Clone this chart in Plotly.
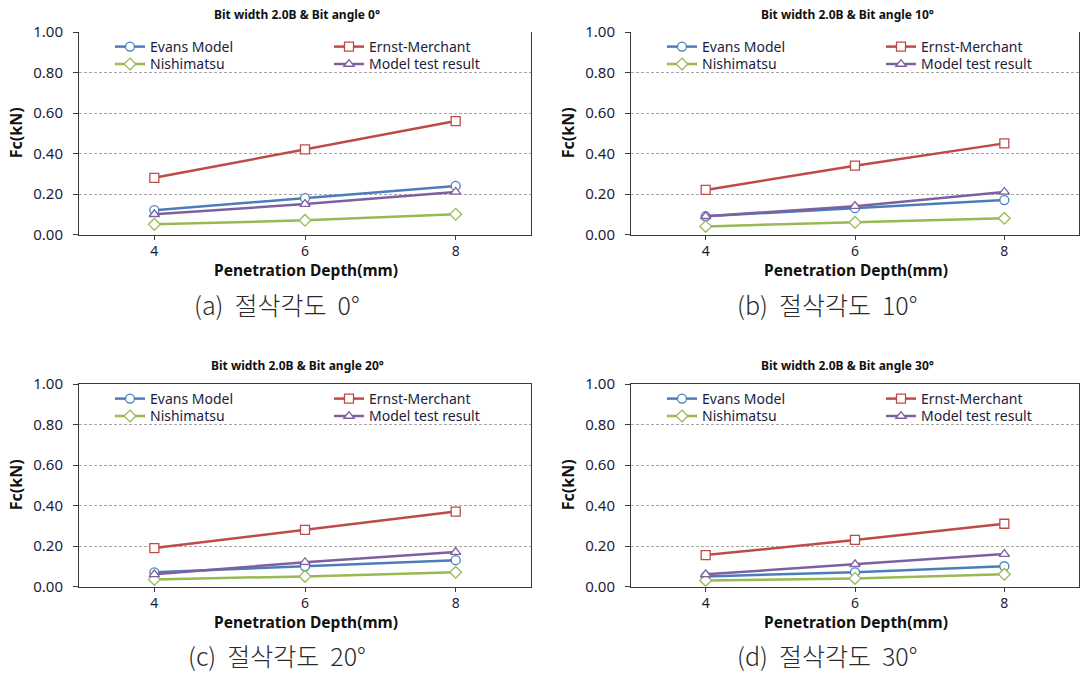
import plotly.graph_objects as go

# Penetration depth categories (mm)
depths = ["4", "6", "8"]

# Cutting force Fc (kN) for each bit angle
evans_0 = [0.12, 0.18, 0.24]
ernst_0 = [0.28, 0.42, 0.56]
nishi_0 = [0.05, 0.07, 0.10]
model_0 = [0.10, 0.15, 0.21]

evans_10 = [0.09, 0.13, 0.17]
ernst_10 = [0.22, 0.34, 0.45]
nishi_10 = [0.04, 0.06, 0.08]
model_10 = [0.09, 0.14, 0.21]

evans_20 = [0.07, 0.10, 0.13]
ernst_20 = [0.19, 0.28, 0.37]
nishi_20 = [0.035, 0.05, 0.07]
model_20 = [0.06, 0.12, 0.17]

evans_30 = [0.05, 0.07, 0.10]
ernst_30 = [0.155, 0.23, 0.31]
nishi_30 = [0.03, 0.04, 0.06]
model_30 = [0.06, 0.11, 0.16]

angles = [0, 10, 20, 30]
panel_tags = ["(a)", "(b)", "(c)", "(d)"]
series_names = ["Evans Model", "Ernst-Merchant", "Nishimatsu", "Model test result"]
panels = [
    [evans_0, ernst_0, nishi_0, model_0],
    [evans_10, ernst_10, nishi_10, model_10],
    [evans_20, ernst_20, nishi_20, model_20],
    [evans_30, ernst_30, nishi_30, model_30],
]

colors = ["#4a7ebb", "#be4b48", "#98b954", "#7d60a0"]
symbols = ["circle", "square", "diamond", "triangle-up"]
# legend grid slot of each series: (column, row)
legend_slot = [(0, 0), (1, 0), (0, 1), (1, 1)]
y_ticks = [0.0, 0.2, 0.4, 0.6, 0.8, 1.0]

W, H = 1084, 673
# plot-area boxes in pixels: (left, right, top, bottom)
boxes = [
    (79, 531, 32, 234.5),
    (631, 1079, 32, 234.5),
    (79, 531, 384, 586.5),
    (631, 1079, 384, 586.5),
]
# vertical offset of the panel caption below each plot area
caption_gap = [70, 70, 68, 68]

TEXT = "#1c1c3c"
FONT = "Noto Sans"


def legend_id(n):
    return "legend" if n == 1 else "legend%d" % n


def px_x(v):
    return v / W


def px_y(v):
    return 1 - v / H


fig = go.Figure()
annotations = []
layout = {}

for i, (vals, box) in enumerate(zip(panels, boxes)):
    left, right, top, bottom = box
    sfx = "" if i == 0 else str(i + 1)
    xa, ya = "x" + sfx, "y" + sfx
    ya_lab = "y%d" % (i + 5)
    for k, (name, v, c, s, slot) in enumerate(
            zip(series_names, vals, colors, symbols, legend_slot)):
        leg = legend_id(4 * i + k + 1)
        fig.add_trace(go.Scatter(
            x=depths, y=v, name=name, mode="lines+markers",
            xaxis=xa, yaxis=ya, legend=leg, showlegend=True,
            line=dict(color=c, width=2.5),
            marker=dict(symbol=s, size=9, color="white",
                        line=dict(color=c, width=1.3)),
        ))
        col, row = slot
        layout[leg] = dict(
            x=px_x(left + (31, 250)[col]), y=px_y(top - 1 + 17.4 * row),
            xanchor="left", yanchor="top", orientation="v",
            font=dict(family=FONT, size=14, color=TEXT),
            bgcolor="rgba(0,0,0,0)", borderwidth=0,
        )
    # empty trace that registers the tick-label axis on this subplot
    fig.add_trace(go.Scatter(x=[], y=[], xaxis=xa, yaxis=ya_lab,
                             showlegend=False, hoverinfo="skip"))
    top_solid = i >= 2
    layout["xaxis" + sfx] = dict(
        domain=[px_x(left), px_x(right)], anchor=ya, type="category",
        range=[-0.5, 2.5], showline=True, linecolor="#3a3a3a", linewidth=1.3,
        mirror=top_solid, ticks="outside", ticklen=4, tickcolor="#3a3a3a",
        showgrid=False, tickfont=dict(family=FONT, size=14, color=TEXT),
    )
    # value axis: frame line, ticks and dashed grid
    layout["yaxis" + sfx] = dict(
        domain=[px_y(bottom), px_y(top)], anchor=xa, range=[0, 1.0],
        tickvals=y_ticks, showticklabels=False,
        showline=True, linecolor="#3a3a3a", linewidth=1.3,
        mirror=True, ticks="outside", ticklen=5, tickcolor="#3a3a3a",
        showgrid=True, gridcolor="#a6a6a6", griddash="3px,2px", gridwidth=1,
        zeroline=False,
    )
    # companion axis carrying the tick labels a little further out
    layout["yaxis%d" % (i + 5)] = dict(
        overlaying=ya, anchor="free", position=px_x(left - 16), side="left",
        range=[0, 1.0], tickvals=y_ticks, tickformat=".2f",
        showline=False, showgrid=False, zeroline=False, ticks="",
        tickfont=dict(family=FONT, size=15, color=TEXT),
    )
    cx = (left + right) / 2
    cy = (top + bottom) / 2
    annotations += [
        dict(text="<b>Bit width 2.0B & Bit angle %d°</b>" % angles[i],
             x=px_x(cx - 8), y=px_y(top - 18),
             font=dict(family=FONT, size=12, color="#111111")),
        dict(text="<b>Penetration Depth(mm)</b>",
             x=px_x(cx + 1), y=px_y(bottom + 35),
             font=dict(family=FONT, size=15.5, color="#111111")),
        dict(text="<b>Fc(kN)</b>", textangle=-90,
             x=px_x(left - 63), y=px_y(cy),
             font=dict(family=FONT, size=16, color="#111111")),
        dict(text="%s  절삭각도  %d°" % (panel_tags[i], angles[i]),
             x=px_x(cx - 28), y=px_y(bottom + caption_gap[i]),
             font=dict(family="Noto Sans CJK KR", size=25, weight=300,
                       color="#2a2a2a")),
    ]

for a in annotations:
    a.update(xref="paper", yref="paper", xanchor="center",
             yanchor="middle", showarrow=False, borderpad=0)

fig.update_layout(
    width=W, height=H, showlegend=True,
    margin=dict(l=0, r=0, t=0, b=0, autoexpand=False),
    paper_bgcolor="white", plot_bgcolor="white",
    annotations=annotations, **layout,
)

fig.write_html("out.html")
